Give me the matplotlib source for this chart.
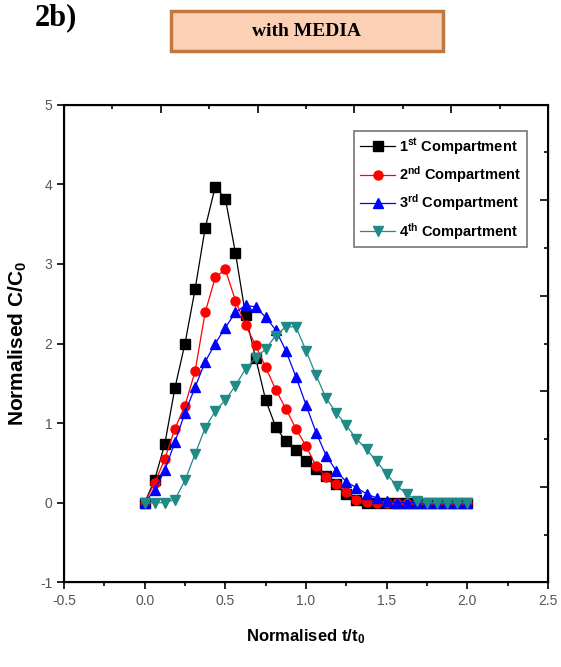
import numpy as np
import matplotlib
matplotlib.use('Agg')
import matplotlib.pyplot as plt
from matplotlib.patches import FancyBboxPatch
from matplotlib.ticker import MultipleLocator

plt.rcParams['font.family'] = ['Liberation Sans', 'DejaVu Sans']
plt.rcParams['mathtext.fontset'] = 'custom'
plt.rcParams['mathtext.rm'] = 'Liberation Sans:bold'
plt.rcParams['mathtext.default'] = 'rm'

# normalised time, 33 samples from 0 to 2
t = np.arange(33) / 16.0

c1 = [0, 0.29, 0.74, 1.44, 2.0, 2.68, 3.45, 3.97, 3.82, 3.14, 2.36, 1.82, 1.29,
      0.95, 0.77, 0.66, 0.52, 0.42, 0.34, 0.24, 0.11, 0.03, 0, 0, 0, 0, 0,
      0, 0, 0, 0, 0, 0]
c2 = [0, 0.25, 0.55, 0.93, 1.22, 1.65, 2.39, 2.83, 2.93, 2.54, 2.23, 1.98, 1.70,
      1.42, 1.18, 0.93, 0.71, 0.46, 0.32, 0.23, 0.13, 0.04, 0.01, 0, 0, 0, 0,
      0, 0, 0, 0, 0, 0]
c3 = [0, 0.16, 0.41, 0.76, 1.13, 1.45, 1.77, 2.0, 2.2, 2.39, 2.48, 2.46, 2.33,
      2.17, 1.91, 1.58, 1.23, 0.88, 0.59, 0.40, 0.26, 0.19, 0.11, 0.06, 0.02,
      0, 0, 0, 0, 0, 0, 0, 0]
c4 = [0, 0, 0, 0.04, 0.28, 0.61, 0.94, 1.15, 1.29, 1.47, 1.68, 1.82, 1.93, 2.10,
      2.21, 2.21, 1.91, 1.60, 1.31, 1.13, 0.97, 0.80, 0.67, 0.52, 0.36, 0.21,
      0.11, 0.02, 0, 0, 0, 0, 0]

labels = ['1$^{st}$ Compartment', '2$^{nd}$ Compartment',
          '3$^{rd}$ Compartment', '4$^{th}$ Compartment']
colors = ['black', 'red', 'blue', '#1f8a86']
markers = ['s', 'o', '^', 'v']

fig = plt.figure(figsize=(5.61, 6.67), dpi=100)
ax = fig.add_axes([0.114, 0.127, 0.863, 0.716])

for y, lab, col, m in zip([c1, c2, c3, c4], labels, colors, markers):
    ax.plot(t, y, color=col, marker=m, markersize=6.5, linewidth=0.9,
            markeredgecolor=col, label=lab)

ax.set_xlim(-0.5, 2.5)
ax.set_ylim(-1, 5)
ax.xaxis.set_minor_locator(MultipleLocator(0.25))
ax.set_xticks(np.arange(-0.5, 2.51, 0.5))
ax.set_xticklabels(['-0.5', '0.0', '0.5', '1.0', '1.5', '2.0', '2.5'])
ax.set_yticks(range(-1, 6))
ax.set_yticklabels(['-1', '0', '1', '2', '3', '4', '5'])
ax.tick_params(which='major', direction='out', length=5, width=1.2,
               labelsize=10, labelcolor='#555555')
ax.tick_params(which='minor', direction='out', length=3, width=1.2)
for s in ax.spines.values():
    s.set_linewidth(1.5)

# mirror axes on top/right with inward ticks
axr = ax.twinx()
axr.set_ylim(0, 5)
axr.yaxis.set_major_locator(MultipleLocator(1))
axr.yaxis.set_minor_locator(MultipleLocator(0.5))
axr.tick_params(which='major', direction='in', length=6, width=1.2, labelright=False)
axr.tick_params(which='minor', direction='in', length=3, width=1.2)
axt = ax.twiny()
axt.set_xlim(0, 5)
axt.xaxis.set_major_locator(MultipleLocator(1))
axt.xaxis.set_minor_locator(MultipleLocator(0.5))
axt.tick_params(which='major', direction='in', length=6, width=1.2, labeltop=False)
axt.tick_params(which='minor', direction='in', length=3, width=1.2)

ax.set_xlabel('Normalised t/t$_0$', fontsize=12, fontweight='bold', labelpad=14)
ax.set_ylabel('Normalised C/C$_0$', fontsize=15, fontweight='bold', labelpad=8)

leg = ax.legend(loc='upper right', bbox_to_anchor=(0.957, 0.946), fontsize=10.5,
                frameon=True, fancybox=False, edgecolor='#555555',
                handlelength=2.4, borderpad=0.4, labelspacing=0.5,
                handletextpad=0.3, borderaxespad=0.0)
leg.get_frame().set_linewidth(1.2)
for txt in leg.get_texts():
    txt.set_fontweight('bold')

fig.text(0.062, 0.995, '2b)', fontsize=22, fontweight='bold', va='top',
         family='Liberation Serif')
box = FancyBboxPatch((0.305, 0.923), 0.485, 0.061, boxstyle='square,pad=0',
                     transform=fig.transFigure, facecolor='#fcd0b4',
                     edgecolor='#c07840', linewidth=2.5)
fig.patches.append(box)
fig.text(0.547, 0.953, 'with MEDIA', fontsize=14, fontweight='bold',
         ha='center', va='center', family='Liberation Serif')

fig.savefig('out.png', dpi=100)
